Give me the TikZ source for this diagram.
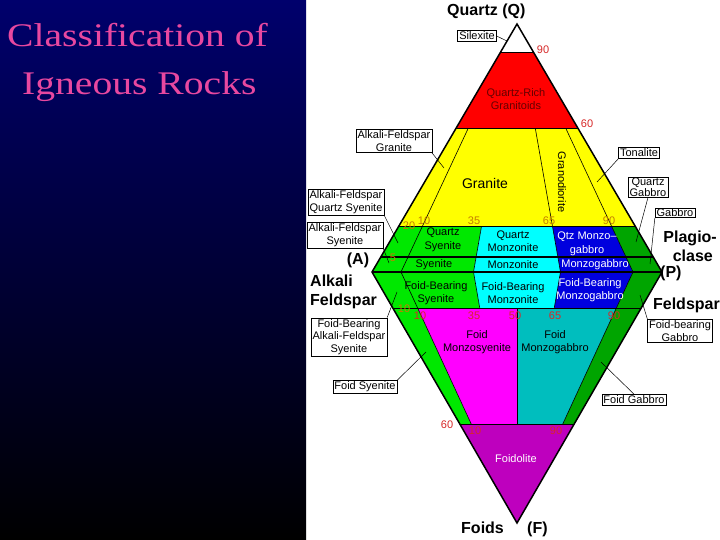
\documentclass[tikz,border=0pt]{standalone}
\usepackage{fontspec}
\setmainfont{Liberation Serif}
\setsansfont{Liberation Sans}
\newfontfamily\slidetitlefont[FakeStretch=1.2]{Liberation Serif}
\usepackage{tikz}
\usetikzlibrary{calc}
\usetikzlibrary{positioning}

\definecolor{slidepink}{RGB}{232,72,160}
\definecolor{slidenavy}{RGB}{0,0,108}
\definecolor{qrich}{RGB}{255,0,0}
\definecolor{granitoid}{RGB}{255,255,0}
\definecolor{syenitegreen}{RGB}{0,232,0}
\definecolor{monzocyan}{RGB}{0,255,255}
\definecolor{gabbroblue}{RGB}{0,0,222}
\definecolor{gabbrogreen}{RGB}{0,165,0}
\definecolor{foidmagenta}{RGB}{255,0,255}
\definecolor{foidteal}{RGB}{0,190,190}
\definecolor{foidpurple}{RGB}{190,0,190}
\definecolor{ticktan}{RGB}{195,125,0}
\definecolor{tickred}{RGB}{215,40,40}

\tikzset{>=latex}
\tikzset{
    slidetitle/.style={text=slidepink, inner sep=0pt, font=\slidetitlefont\fontsize{33}{36}\selectfont},
    rockbox/.style={draw, fill=white, line width=0.6pt, inner xsep=1.5pt, inner ysep=1.5pt,
        align=center, font=\sffamily\fontsize{11}{12.5}\selectfont},
    rockname/.style={align=center, inner sep=0pt, font=\sffamily\fontsize{11}{13.5}\selectfont},
    apexname/.style={inner sep=0pt, font=\sffamily\bfseries\fontsize{16}{18}\selectfont},
    ratiolabel/.style={inner sep=0pt, font=\sffamily\fontsize{11}{12}\selectfont},
    leader/.style={line width=0.5pt},
    divider/.style={line width=0.6pt},
    heavydivider/.style={line width=2pt},
}

\begin{document}
\begin{tikzpicture}[x=1pt,y=-1pt]
    \useasboundingbox (0,0) rectangle (720,540);

    % slide background
    \fill[white] (0,0) rectangle (720,540);
    \shade[
        top color=slidenavy,
        middle color=slidenavy!85!black,
        bottom color=black,
    ] (0,0) rectangle (306,540);

    % title
    \node[slidetitle, anchor=base west] (title-a) at (7,47) {Classification of};
    \node[slidetitle, anchor=base west] (title-b) at (22,95) {Igneous Rocks};

    % corners
    \coordinate (Q) at (517,24);
    \coordinate (A) at (372,272);
    \coordinate (P) at (662,272);
    \coordinate (F) at (517,523);

    % grid points, upper triangle
    \foreach \lv/\qf in {0/0, 5/0.06, 20/0.185, 60/0.58, 90/0.887} {
        \foreach \rt in {0, 10, 35, 65, 90, 100} {
            \coordinate (ap) at ($(A)!\rt/100!(P)$);
            \coordinate (q\lv-\rt) at ($(ap)!\qf!(Q)$);
        }
    }
    % grid points, lower triangle
    \foreach \lv/\ff in {0/0, 10/0.145, 60/0.606} {
        \foreach \rt in {0, 10, 35, 50, 65, 90, 100} {
            \coordinate (ap) at ($(A)!\rt/100!(P)$);
            \coordinate (f\lv-\rt) at ($(ap)!\ff!(F)$);
        }
    }

    % quartz rich
    \fill[qrich] (q90-0) -- (q90-100) -- (q60-100) -- (q60-0) -- cycle;
    % granitoids
    \fill[granitoid] (q60-0) -- (q60-100) -- (q20-100) -- (q20-0) -- cycle;
    % quartz syenite .. monzogabbro
    \fill[syenitegreen] (q20-0) -- (q20-35) -- (q0-35) -- (q0-0) -- cycle;
    \fill[monzocyan] (q20-35) -- (q20-65) -- (q0-65) -- (q0-35) -- cycle;
    \fill[gabbroblue] (q20-65) -- (q20-90) -- (q0-90) -- (q0-65) -- cycle;
    \fill[gabbrogreen] (q20-90) -- (q20-100) -- (q0-100) -- (q0-90) -- cycle;
    % foid bearing
    \fill[syenitegreen] (f0-0) -- (f0-35) -- (f10-35) -- (f10-0) -- cycle;
    \fill[monzocyan] (f0-35) -- (f0-65) -- (f10-65) -- (f10-35) -- cycle;
    \fill[gabbroblue] (f0-65) -- (f0-90) -- (f10-90) -- (f10-65) -- cycle;
    \fill[gabbrogreen] (f0-90) -- (f0-100) -- (f10-100) -- (f10-90) -- cycle;
    % foid syenite .. foid gabbro
    \fill[syenitegreen] (f10-0) -- (f10-10) -- (f60-10) -- (f60-0) -- cycle;
    \fill[foidmagenta] (f10-10) -- (f10-50) -- (f60-50) -- (f60-10) -- cycle;
    \fill[foidteal] (f10-50) -- (f10-90) -- (f60-90) -- (f60-50) -- cycle;
    \fill[gabbrogreen] (f10-90) -- (f10-100) -- (f60-100) -- (f60-90) -- cycle;
    % foidolite
    \fill[foidpurple] (f60-0) -- (f60-100) -- (F) -- cycle;

    % field boundaries
    \foreach \lv in {90, 60, 20} \draw[divider] (q\lv-0) -- (q\lv-100);
    \foreach \lv in {10, 60} \draw[divider] (f\lv-0) -- (f\lv-100);
    \foreach \rt in {10, 65, 90} \draw[divider] (q60-\rt) -- (q0-\rt);
    \draw[divider] (q20-35) -- (q0-35);
    \foreach \rt in {10, 35, 65, 90} \draw[divider] (f0-\rt) -- (f10-\rt);
    \foreach \rt in {10, 50, 90} \draw[divider] (f10-\rt) -- (f60-\rt);
    \draw[heavydivider] (q5-0) -- (q5-100);
    \draw[heavydivider] (A) -- (P);
    \draw[line width=1.5pt] (Q) -- (A) -- (F) -- (P) -- cycle;

    % ratio numbers
    \node[ratiolabel, text=tickred] (n-q90) at (543,50) {90};
    \node[ratiolabel, text=tickred] (n-q60) at (587,124) {60};
    \node[ratiolabel, text=ticktan] (n-q20) at (409,226) {20};
    \foreach \val/\xpos in {10/424, 35/474, 65/549, 90/609}
        \node[ratiolabel, text=ticktan] (n-u\val) at (\xpos,221) {\val};
    \node[ratiolabel, text=ticktan] (n-q5) at (393,258) {5};
    \node[ratiolabel, text=ticktan] (n-f10) at (404,309) {10};
    \foreach \val/\xpos in {10/420, 35/474, 50/515, 65/555, 90/614}
        \node[ratiolabel, text=tickred] (n-l\val) at (\xpos,316) {\val};
    \node[ratiolabel, text=tickred] (n-f60) at (447,425) {60};
    \node[ratiolabel, text=tickred] (n-b10) at (475,431) {10};
    \node[ratiolabel, text=tickred] (n-b90) at (556,431) {90};

    % corner names
    \node[apexname, anchor=base west] (quartz) at (447,16) {Quartz (Q)};
    \node[apexname, anchor=base west] (foids) at (461,533) {Foids};
    \node[apexname, anchor=base west] (foids-f) at (527,533) {(F)};
    \node[apexname] (alkali-a) at (358,260) {(A)};
    \node[apexname, anchor=base west] (alkali) at (310,286) {Alkali};
    \node[apexname, anchor=base west] (alkali-fs) at (310,305) {Feldspar};
    \node[apexname, anchor=base east] (plag-a) at (717,243) {Plagio-};
    \node[apexname, anchor=base east] (plag-b) at (713,261) {clase};
    \node[apexname, anchor=base west] (plag-p) at (660,277) {(P)};
    \node[apexname, anchor=base east] (plag-fs) at (720,309) {Feldspar};

    % names inside the fields
    \node[rockname, text=red!40!black] (qrich-name) at (516,99) {Quartz-Rich\\Granitoids};
    \node[rockname, font=\sffamily\fontsize{14}{16}\selectfont] (granite) at (485,183) {Granite};
    \node[rockname, rotate=-90] (granodiorite) at (562,182) {Granodiorite};
    \node[rockname] (qsyenite) at (443,240) {Quartz\\Syenite};
    \node[rockname] (qmonzonite) at (513,241) {Quartz\\Monzonite};
    \node[rockname, text=white] (qmonzogabbro) at (587,244) {Qtz Monzo--\\gabbro};
    \node[rockname] (syenite) at (434,265) {Syenite};
    \node[rockname] (monzonite) at (513,265) {Monzonite};
    \node[rockname, text=white] (monzogabbro) at (595,265) {Monzogabbro};
    \node[rockname] (fbsyenite) at (436,293) {Foid-Bearing\\Syenite};
    \node[rockname] (fbmonzonite) at (513,293) {Foid-Bearing\\Monzonite};
    \node[rockname, text=white] (fbmonzogabbro) at (590,290) {Foid-Bearing\\Monzogabbro};
    \node[rockname] (fmonzosyenite) at (477,342) {Foid\\Monzosyenite};
    \node[rockname] (fmonzogabbro) at (555,342) {Foid\\Monzogabbro};
    \node[rockname, text=white] (foidolite) at (516,459) {Foidolite};

    % boxed names and their leaders
    \node[rockbox] (silexite) at (477,36) {Silexite};
    \coordinate (silexite-pt) at (507,41);
    \draw[leader] (silexite.east) -- (silexite-pt);

    \node[rockbox] (afgranite) at (394,141) {Alkali-Feldspar\\Granite};
    \coordinate (afgranite-pt) at (444,168);
    \draw[leader] (afgranite.south east) -- (afgranite-pt);

    \node[rockbox] (tonalite) at (639,153) {Tonalite};
    \coordinate (tonalite-pt) at (597,182);
    \draw[leader] (tonalite.south west) -- (tonalite-pt);

    \node[rockbox, inner ysep=0.5pt, font=\sffamily\fontsize{11}{11.5}\selectfont] (qgabbro) at (648,187) {Quartz\\Gabbro};
    \coordinate (qgabbro-pt) at (636,242);
    \draw[leader] (qgabbro.south) -- (qgabbro-pt);

    \node[rockbox, inner ysep=0.5pt] (gabbro) at (675,213) {Gabbro};
    \coordinate (gabbro-pt) at (650,264);
    \draw[leader] (gabbro.south west) -- (gabbro-pt);

    \node[rockbox] (afqsyenite) at (346,202) {Alkali-Feldspar\\Quartz Syenite};
    \coordinate (afqsyenite-pt) at (398,243);
    \draw[leader] (afqsyenite.south east) -- (afqsyenite-pt);

    \node[rockbox] (afsyenite) at (345,235) {Alkali-Feldspar\\Syenite};
    \coordinate (afsyenite-pt) at (389,263);
    \draw[leader] (afsyenite.south east) -- (afsyenite-pt);

    \node[rockbox] (fbafsyenite) at (349,337) {Foid-Bearing\\Alkali-Feldspar\\Syenite};
    \coordinate (fbafsyenite-pt) at (397,292);
    \draw[leader] (fbafsyenite.north east) -- (fbafsyenite-pt);

    \node[rockbox] (foidsyenite) at (365,387) {Foid Syenite};
    \coordinate (foidsyenite-pt) at (426,352);
    \draw[leader] (foidsyenite.north east) -- (foidsyenite-pt);

    \node[rockbox] (fbgabbro) at (680,331) {Foid-bearing\\Gabbro};
    \coordinate (fbgabbro-pt) at (640,295);
    \draw[leader] (fbgabbro.north west) -- (fbgabbro-pt);

    \node[rockbox] (foidgabbro) at (634,400) {Foid Gabbro};
    \coordinate (foidgabbro-pt) at (601,362);
    \draw[leader] (foidgabbro.north) -- (foidgabbro-pt);
\end{tikzpicture}
\end{document}
